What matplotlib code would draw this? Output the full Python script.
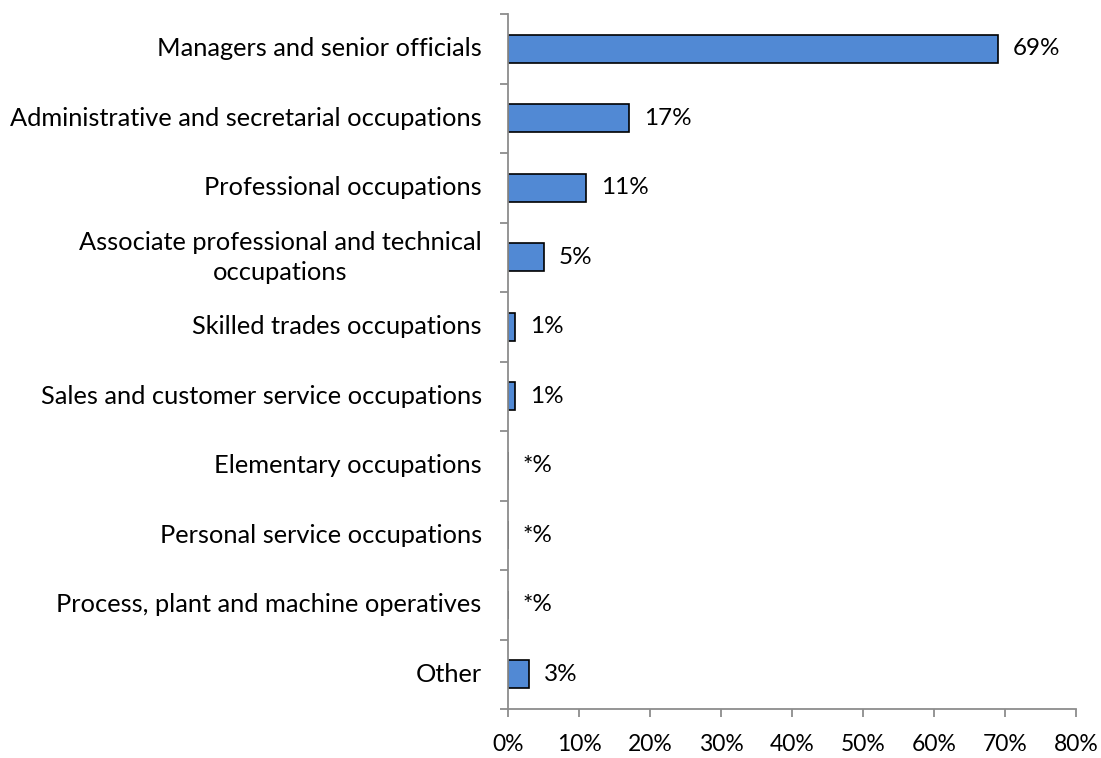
import matplotlib.pyplot as plt

plt.rcParams['font.family'] = ['Lato', 'DejaVu Sans']

# Occupations of respondents, share in percent ("*" = less than 0.5%)
categories = [
    "Managers and senior officials",
    "Administrative and secretarial occupations",
    "Professional occupations",
    "Associate professional and technical\noccupations",
    "Skilled trades occupations",
    "Sales and customer service occupations",
    "Elementary occupations",
    "Personal service occupations",
    "Process, plant and machine operatives",
    "Other",
]
values = [69, 17, 11, 5, 1, 1, 0, 0, 0, 3]
value_labels = ["69%", "17%", "11%", "5%", "1%", "1%", "*%", "*%", "*%", "3%"]
xticks = [0, 10, 20, 30, 40, 50, 60, 70, 80]

fig = plt.figure(figsize=(11.01, 7.58), dpi=100)
ax = fig.add_axes([0.4614, 0.0646, 0.5159, 0.9169])

pos = list(range(len(categories)))
ax.barh(pos, values, height=0.4, color='#5189d4', edgecolor='black', linewidth=1.2)

for p, v, lab in zip(pos, values, value_labels):
    ax.text(v + 2.1, p, lab, va='center', ha='left', fontsize=17.5, color='black')

ax.set_ylim(len(categories) - 0.5, -0.5)
ax.set_xlim(0, 80)
ax.set_xticks(xticks)
ax.set_xticklabels([f"{t}%" for t in xticks], fontsize=16.5)

ax.set_yticks([p - 0.5 for p in pos] + [len(categories) - 0.5])
ax.set_yticklabels([])
ax.tick_params(axis='y', length=6, width=1.3, color='#8c8c8c')
ax.tick_params(axis='x', length=6, width=1.3, color='#8c8c8c', pad=12)
for p, c in zip(pos, categories):
    ax.text(-3.7, p, c, ha='right', va='center', multialignment='center',
            fontsize=18.3, color='black', linespacing=1.38)

for side in ['top', 'right']:
    ax.spines[side].set_visible(False)
for side in ['left', 'bottom']:
    ax.spines[side].set_color('#8c8c8c')
    ax.spines[side].set_linewidth(1.3)

fig.savefig('out.png', dpi=100)
